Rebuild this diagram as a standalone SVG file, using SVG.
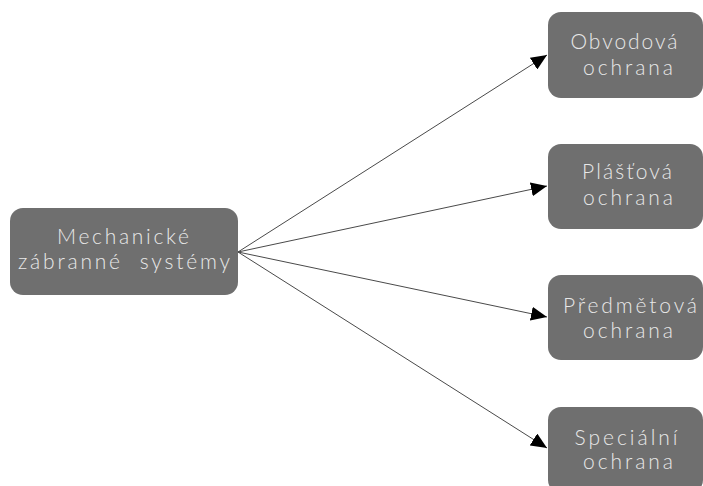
<svg xmlns="http://www.w3.org/2000/svg" width="703" height="486" viewBox="0 0 703 486">
<style>
.box{fill:#6f6f6f;}
.t{font-family:Lato,"Noto Sans","DejaVu Sans",sans-serif;font-size:21px;fill:#e8e8e8;text-anchor:middle;font-weight:300;}
.c{stroke:#4a4a4a;stroke-width:1;fill:none;marker-end:url(#ah);}
</style>
<defs>
<marker id="ah" markerUnits="userSpaceOnUse" markerWidth="17" markerHeight="14" refX="16" refY="7" orient="auto" viewBox="0 0 17 14">
<path d="M0,0 L16,7 L0,14 z" fill="#000"/>
</marker>
</defs>
<rect width="703" height="486" fill="#fff"/>
<g id="connectors">
<line class="c" x1="238" y1="252" x2="547" y2="55"/>
<line class="c" x1="238" y1="252" x2="547" y2="186"/>
<line class="c" x1="238" y1="252" x2="547" y2="317"/>
<line class="c" x1="238" y1="252" x2="547" y2="448"/>
</g>
<g id="mechanicke">
<rect class="box" x="10" y="208" width="228" height="87" rx="13"/>
<text class="t" x="123" y="244" textLength="132" lengthAdjust="spacing">Mechanické</text>
<text class="t" x="124" y="269" textLength="212" lengthAdjust="spacing" xml:space="preserve">zábranné  systémy</text>
</g>
<g id="obvodova">
<rect class="box" x="548" y="12" width="155" height="86" rx="13"/>
<text class="t" x="624" y="49" textLength="107" lengthAdjust="spacing">Obvodová</text>
<text class="t" x="628" y="75" textLength="90" lengthAdjust="spacing">ochrana</text>
</g>
<g id="plastova">
<rect class="box" x="548" y="144" width="155" height="85" rx="13"/>
<text class="t" x="627" y="179" textLength="90" lengthAdjust="spacing">Plášťová</text>
<text class="t" x="628" y="205" textLength="90" lengthAdjust="spacing">ochrana</text>
</g>
<g id="predmetova">
<rect class="box" x="548" y="275" width="155" height="85" rx="13"/>
<text class="t" x="630" y="313" textLength="134" lengthAdjust="spacing">Předmětová</text>
<text class="t" x="628" y="338" textLength="90" lengthAdjust="spacing">ochrana</text>
</g>
<g id="specialni">
<rect class="box" x="548" y="407" width="155" height="86" rx="13"/>
<text class="t" x="626" y="445" textLength="103" lengthAdjust="spacing">Speciální</text>
<text class="t" x="628" y="469" textLength="90" lengthAdjust="spacing">ochrana</text>
</g>
</svg>
